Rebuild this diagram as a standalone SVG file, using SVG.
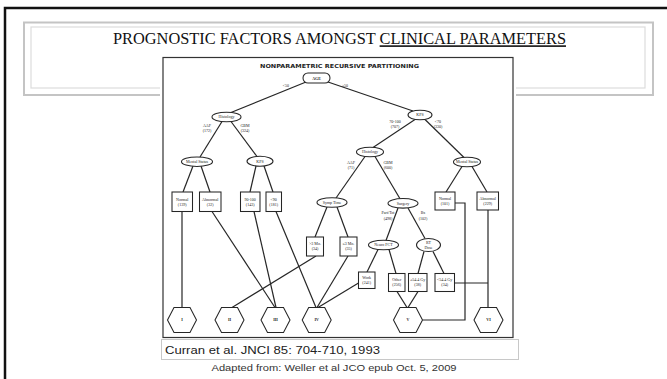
<svg xmlns="http://www.w3.org/2000/svg" xmlns:xlink="http://www.w3.org/1999/xlink" width="667" height="379" viewBox="0 0 667 379">
  <style>
    .ln { stroke: #262626; stroke-width: 1.2; fill: none; }
    .nd { fill: #fff; stroke: #262626; stroke-width: 1.05; }
    .t { font-family: "Liberation Serif", serif; font-size: 4px; fill: #222; text-anchor: middle; }
    .lb { font-family: "Liberation Serif", serif; font-size: 4px; fill: #222; text-anchor: middle; }
    .hx { font-family: "Liberation Serif", serif; font-size: 4px; fill: #222; text-anchor: middle; font-weight: bold; }
  </style>
  <defs>
    <polygon id="hex" points="-14.5,0 -8,-12.5 8,-12.5 14.5,0 8,12.5 -8,12.5" fill="#fff" stroke="#262626" stroke-width="1.05"/>
  </defs>

  <!-- page -->
  <rect width="667" height="379" fill="#fff"/>
  <path d="M5,379 V8 H667" fill="none" stroke="#111" stroke-width="2.5"/>

  <!-- title frame -->
  <rect x="24" y="22.5" width="629" height="72.5" fill="#fff" stroke="#c4c4c4" stroke-width="2"/>
  <rect x="31" y="27" width="614" height="61" fill="none" stroke="#dcdcdc" stroke-width="1.2"/>
  <text x="113" y="44.3" textLength="453" lengthAdjust="spacingAndGlyphs" font-family="Liberation Serif, serif" font-size="16" fill="#111">PROGNOSTIC FACTORS AMONGST <tspan text-decoration="underline">CLINICAL PARAMETERS</tspan></text>

  <!-- figure panel -->
  <rect x="160" y="50" width="356" height="290" fill="#fff"/>
  <rect x="163" y="57.5" width="350" height="280" fill="none" stroke="#333" stroke-width="1.2"/>
  <text x="260" y="67.5" textLength="159" lengthAdjust="spacingAndGlyphs" font-family="DejaVu Sans, sans-serif" font-size="5.5" font-weight="bold" fill="#222">NONPARAMETRIC RECURSIVE PARTITIONING</text>

  <!-- connectors -->
  <g id="connectors" class="ln">
    <line x1="306" y1="82" x2="231" y2="112.5"/>
    <line x1="328" y1="82" x2="413" y2="111"/>
    <line x1="222" y1="121.5" x2="200" y2="157"/>
    <line x1="231" y1="121.5" x2="257" y2="156.5"/>
    <line x1="415" y1="119.5" x2="373" y2="147.5"/>
    <line x1="425" y1="119.5" x2="464" y2="157.5"/>
    <line x1="365" y1="156.5" x2="336" y2="198"/>
    <line x1="375" y1="156.5" x2="400" y2="198.7"/>
    <line x1="193" y1="166" x2="183" y2="192"/>
    <line x1="201" y1="166" x2="210" y2="192"/>
    <line x1="256" y1="166" x2="250" y2="192"/>
    <line x1="264" y1="166" x2="273" y2="192"/>
    <line x1="327" y1="207" x2="315" y2="237"/>
    <line x1="337" y1="207" x2="348" y2="237"/>
    <line x1="398" y1="208" x2="386" y2="240.5"/>
    <line x1="408" y1="208" x2="425" y2="238.5"/>
    <line x1="462" y1="166.5" x2="446" y2="192"/>
    <line x1="472" y1="166.5" x2="487" y2="192"/>
    <line x1="378" y1="249.5" x2="367" y2="272"/>
    <line x1="389" y1="249.5" x2="396" y2="273.5"/>
    <line x1="424" y1="251.5" x2="418" y2="273.5"/>
    <line x1="433" y1="251.5" x2="444" y2="273.5"/>
    <!-- terminal links -->
    <line x1="182" y1="211.5" x2="182" y2="307.5"/>
    <line x1="212" y1="211.5" x2="275" y2="307.5"/>
    <line x1="254" y1="211.5" x2="276" y2="307.5"/>
    <line x1="276" y1="211.5" x2="316" y2="307.5"/>
    <line x1="316" y1="256" x2="232" y2="307.5"/>
    <line x1="348" y1="256" x2="317" y2="307.5"/>
    <line x1="358.5" y1="283" x2="318" y2="307.5"/>
    <line x1="397" y1="291.5" x2="407" y2="307.5"/>
    <line x1="418" y1="291.5" x2="408" y2="307.5"/>
    <polyline points="455,203 465,203 465,320 422.5,320"/>
    <line x1="488" y1="210" x2="488" y2="307.5"/>
    <line x1="454.5" y1="283" x2="488" y2="283"/>
  </g>

  <!-- branch labels -->
  <g id="branch-labels">
    <text class="lb" x="286" y="87">&lt;50</text>
    <text class="lb" x="345" y="87">≥50</text>
    <text class="lb" x="207" y="127">AAF</text><text class="lb" x="207" y="132">(172)</text>
    <text class="lb" x="245" y="127">GBM</text><text class="lb" x="245" y="132">(324)</text>
    <text class="lb" x="395" y="123">70-100</text><text class="lb" x="395" y="128">(707)</text>
    <text class="lb" x="438" y="123">&lt;70</text><text class="lb" x="438" y="128">(330)</text>
    <text class="lb" x="351" y="164">AAF</text><text class="lb" x="351" y="169">(71)</text>
    <text class="lb" x="388" y="164">GBM</text><text class="lb" x="388" y="169">(600)</text>
    <text class="lb" x="388" y="214">Part/Tot</text><text class="lb" x="388" y="219.5">(498)</text>
    <text class="lb" x="423" y="214">Bx</text><text class="lb" x="423" y="219.5">(102)</text>
  </g>

  <!-- split nodes -->
  <g id="age"><rect class="nd" x="303" y="73" width="27" height="10" rx="5"/><text class="t" x="316.5" y="79.6" font-weight="bold" font-size="4.5">AGE</text></g>
  <g id="histology-young"><ellipse class="nd" cx="226.5" cy="117" rx="14.5" ry="4.8"/><text class="t" x="226.5" y="118.4">Histology</text></g>
  <g id="kps-old"><ellipse class="nd" cx="420" cy="115" rx="12" ry="4.8"/><text class="t" x="420" y="116.4">KPS</text></g>
  <g id="mental-young"><ellipse class="nd" cx="197" cy="161.7" rx="15.5" ry="4.8"/><text class="t" x="197" y="163.1">Mental Status</text></g>
  <g id="kps-young"><ellipse class="nd" cx="260" cy="161.2" rx="13" ry="5"/><text class="t" x="260" y="162.6">KPS</text></g>
  <g id="histology-old"><ellipse class="nd" cx="370" cy="152" rx="13.5" ry="4.8"/><text class="t" x="370" y="153.4">Histology</text></g>
  <g id="mental-old"><ellipse class="nd" cx="467" cy="162" rx="13.5" ry="4.8"/><text class="t" x="467" y="163.4">Mental Status</text></g>
  <g id="symp-time"><ellipse class="nd" cx="332" cy="202.5" rx="15" ry="4.8"/><text class="t" x="332" y="203.9">Symp Time</text></g>
  <g id="surgery"><ellipse class="nd" cx="403" cy="203.3" rx="15" ry="4.8"/><text class="t" x="403" y="204.7">Surgery</text></g>
  <g id="neuro-fct"><ellipse class="nd" cx="383.5" cy="245" rx="15" ry="4.8"/><text class="t" x="383.5" y="246.4">Neuro FCT</text></g>
  <g id="rt-dose"><ellipse class="nd" cx="428.5" cy="245" rx="12" ry="6.5"/><text class="t" x="428.5" y="244">RT</text><text class="t" x="428.5" y="248.5">Dose</text></g>

  <!-- leaf boxes -->
  <g id="ms-normal"><rect class="nd" x="172" y="192" width="20.5" height="19.5"/><text class="t" x="182.2" y="200.5">Normal</text><text class="t" x="182.2" y="205.5">(139)</text></g>
  <g id="ms-abnormal"><rect class="nd" x="199.5" y="192" width="21.5" height="19.5"/><text class="t" x="210.2" y="200.5">Abnormal</text><text class="t" x="210.2" y="205.5">(32)</text></g>
  <g id="kps-90-100"><rect class="nd" x="240.5" y="192" width="19.5" height="19.5"/><text class="t" x="250.2" y="200.5">90-100</text><text class="t" x="250.2" y="205.5">(143)</text></g>
  <g id="kps-lt90"><rect class="nd" x="266" y="192" width="15.5" height="19.5"/><text class="t" x="273.7" y="200.5">&lt;90</text><text class="t" x="273.7" y="205.5">(181)</text></g>
  <g id="symp-long"><rect class="nd" x="306.5" y="237" width="17" height="19"/><text class="t" x="315" y="245.3">&gt;3 Mo.</text><text class="t" x="315" y="250.3">(34)</text></g>
  <g id="symp-short"><rect class="nd" x="340" y="237" width="17" height="19"/><text class="t" x="348.5" y="245.3">≤3 Mo.</text><text class="t" x="348.5" y="250.3">(35)</text></g>
  <g id="ms-normal-old"><rect class="nd" x="435" y="192" width="20" height="18"/><text class="t" x="445" y="199.8">Normal</text><text class="t" x="445" y="204.8">(101)</text></g>
  <g id="ms-abnormal-old"><rect class="nd" x="477" y="192" width="21.5" height="18"/><text class="t" x="487.7" y="199.8">Abnormal</text><text class="t" x="487.7" y="204.8">(229)</text></g>
  <g id="work"><rect class="nd" x="358.5" y="272" width="16.5" height="16.5"/><text class="t" x="366.7" y="279">Work</text><text class="t" x="366.7" y="284">(241)</text></g>
  <g id="other"><rect class="nd" x="388.5" y="273.5" width="16.5" height="18"/><text class="t" x="396.7" y="281.2">Other</text><text class="t" x="396.7" y="286.2">(256)</text></g>
  <g id="dose-high"><rect class="nd" x="408.5" y="273.5" width="18.5" height="18"/><text class="t" x="417.7" y="281.2">≥54.4 Gy</text><text class="t" x="417.7" y="286.2">(38)</text></g>
  <g id="dose-low"><rect class="nd" x="435" y="273.5" width="19.5" height="18"/><text class="t" x="444.7" y="281.2">&lt;54.4 Gy</text><text class="t" x="444.7" y="286.2">(34)</text></g>

  <!-- prognostic classes -->
  <g id="class-1"><use xlink:href="#hex" x="182" y="320"/><text class="hx" x="182" y="321.4">I</text></g>
  <g id="class-2"><use xlink:href="#hex" x="229.5" y="320"/><text class="hx" x="229.5" y="321.4">II</text></g>
  <g id="class-3"><use xlink:href="#hex" x="275.5" y="320"/><text class="hx" x="275.5" y="321.4">III</text></g>
  <g id="class-4"><use xlink:href="#hex" x="316.7" y="320"/><text class="hx" x="316.7" y="321.4">IV</text></g>
  <g id="class-5"><use xlink:href="#hex" x="408" y="320"/><text class="hx" x="408" y="321.4">V</text></g>
  <g id="class-6"><use xlink:href="#hex" x="488.5" y="320"/><text class="hx" x="488.5" y="321.4">VI</text></g>

  <!-- citations -->
  <rect x="161.5" y="339.5" width="357" height="20" fill="#fff" stroke="#c8c8c8" stroke-width="1"/>
  <text x="165" y="353.5" textLength="215" lengthAdjust="spacingAndGlyphs" font-family="Liberation Sans, sans-serif" font-size="11.5" fill="#222">Curran et al. JNCI 85: 704-710, 1993</text>
  <text x="211.5" y="371" textLength="245" lengthAdjust="spacingAndGlyphs" font-family="Liberation Sans, sans-serif" font-size="8.5" fill="#333">Adapted from: Weller et al JCO epub Oct. 5, 2009</text>
</svg>
